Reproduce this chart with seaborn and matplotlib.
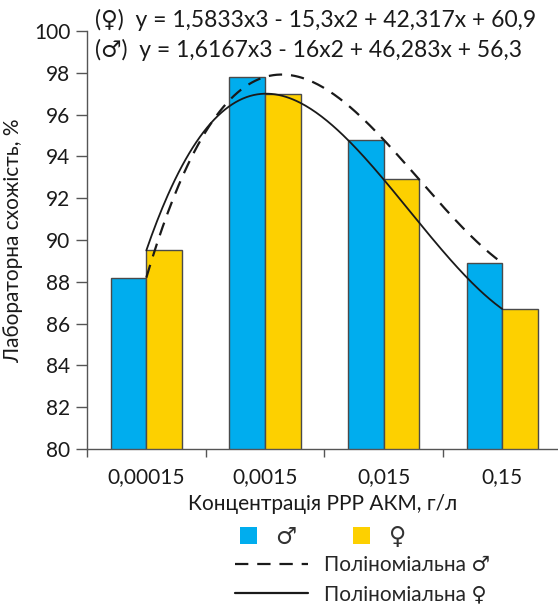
import numpy as np
import pandas as pd
import matplotlib
matplotlib.use("Agg")
import matplotlib.pyplot as plt
import seaborn as sns
from matplotlib.patches import Patch
from matplotlib.lines import Line2D

# ---- data ----
categories = ["0,00015", "0,0015", "0,015", "0,15"]
male_values = [88.2, 97.8, 94.8, 88.9]      # ♂
female_values = [89.5, 97.0, 92.9, 86.7]    # ♀
# trend-line coefficients printed in the chart (x = 1..4)
male_coef = [1.6167, -16.0, 46.283, 56.3]
female_coef = [1.5833, -15.3, 42.317, 60.9]
yticks = [80, 82, 84, 86, 88, 90, 92, 94, 96, 98, 100]

sns.set_theme(style="white")
plt.rcParams["font.family"] = ["Lato", "DejaVu Sans"]

blue = "#00ADEE"
yellow = "#FDD000"
txt = "#1a1a1a"

df = pd.DataFrame({
    "cat": categories * 2,
    "sex": ["♂"] * 4 + ["♀"] * 4,
    "val": male_values + female_values,
})

fig = plt.figure(figsize=(5.58, 6.08), dpi=100)
ax = fig.add_axes([87 / 558, 1 - 449 / 608, 1 - 87 / 558, (449 - 31) / 608])

sns.barplot(data=df, x="cat", y="val", hue="sex", order=categories,
            hue_order=["♂", "♀"], palette=[blue, yellow], width=0.6, saturation=1,
            edgecolor="#4a4a4a", linewidth=1.0, ax=ax, legend=False)

xs = np.linspace(1, 4, 200)
ym = np.polyval(male_coef, xs)
yf = np.polyval(female_coef, xs)
sns.lineplot(x=xs - 1, y=ym, color=txt, linestyle=(0, (6, 4)), linewidth=1.6, ax=ax)
sns.lineplot(x=xs - 1, y=yf, color=txt, linestyle="-", linewidth=1.3, ax=ax)

ax.set_ylim(80, 100)
ax.set_xlim(-0.5, 3.47)
ax.set_yticks(yticks)
ax.set_yticklabels([str(t) for t in yticks], fontsize=15, color=txt)
ax.set_xticks(range(4))
ax.set_xticklabels(categories, fontsize=15, color=txt)
ax.set_xticks([-0.5, 0.5, 1.5, 2.5], minor=True)
ax.tick_params(axis="x", which="major", length=0, pad=13)
ax.tick_params(axis="x", which="minor", length=6, width=1, color="#555555", direction="out", bottom=True)
ax.tick_params(axis="y", length=8, width=1, color="#555555", direction="out", left=True, pad=4)

for s in ["top", "right"]:
    ax.spines[s].set_visible(False)
for s in ["left", "bottom"]:
    ax.spines[s].set_color("#555555")
    ax.spines[s].set_linewidth(1.0)

ax.set_xlabel("Концентрація РРР АКМ, г/л", fontsize=15, color=txt, labelpad=5)
ax.set_ylabel("Лабораторна схожість, %", fontsize=15, color=txt, labelpad=8)
ax.grid(False)

fig.text(95 / 558, 1 - 20 / 608, "(♀)  y = 1,5833x3 - 15,3x2 + 42,317x + 60,9",
         fontsize=16.5, color=txt, va="center", ha="left")
fig.text(95 / 558, 1 - 50 / 608, "(♂)  y = 1,6167x3 - 16x2 + 46,283x + 56,3",
         fontsize=16.5, color=txt, va="center", ha="left")

h1 = [Patch(facecolor=blue, edgecolor="none"), Patch(facecolor=yellow, edgecolor="none")]
leg1 = fig.legend(h1, ["♂", "♀"], ncol=2, loc="center left", bbox_to_anchor=(240 / 558, 1 - 537 / 608),
                  frameon=False, fontsize=17, handlelength=0.7, handleheight=0.7,
                  columnspacing=2.4, handletextpad=0.8, borderpad=0.0, borderaxespad=0.0)
for t in leg1.get_texts():
    t.set_color("#333333")
h2 = [Line2D([], [], color=txt, linestyle=(0, (6, 4)), linewidth=1.6),
      Line2D([], [], color=txt, linestyle="-", linewidth=1.6)]
leg2 = fig.legend(h2, ["Поліноміальна ♂", "Поліноміальна ♀"], loc="center left",
                  bbox_to_anchor=(235 / 558, 1 - 580 / 608), frameon=False, fontsize=15,
                  handlelength=3.5, handletextpad=0.75, labelspacing=0.45,
                  borderpad=0.0, borderaxespad=0.0)

fig.savefig("out.png", dpi=100)
